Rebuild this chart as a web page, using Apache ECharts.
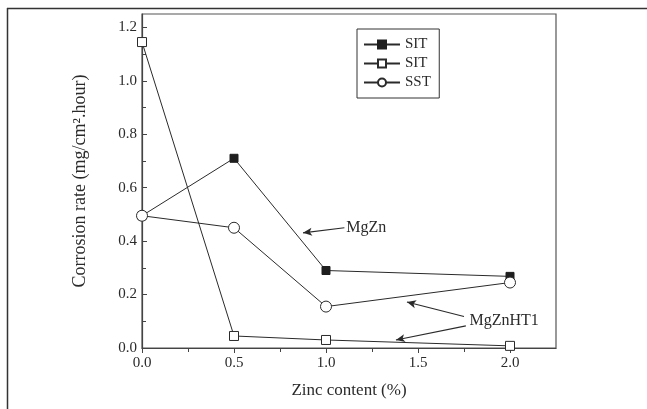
<!DOCTYPE html>
<html><head><meta charset="utf-8">
<script src="https://cdn.jsdelivr.net/npm/echarts@6/dist/echarts.min.js"></script>
<style>html,body{margin:0;padding:0;background:#fff}#c{width:647px;height:409px}</style>
</head><body><div id="c"></div>
<script>
const zinc = [0, 0.5, 1.0, 2.0];
const sitFilled = [0.495, 0.71, 0.29, 0.268];
const sitOpen = [1.145, 0.045, 0.03, 0.008];
const sst = [0.495, 0.45, 0.155, 0.245];
const xTicks = [0, 0.5, 1.0, 1.5, 2.0];
const yTicks = [0, 0.2, 0.4, 0.6, 0.8, 1.0, 1.2];
const seriesNames = ['SIT', 'SIT ', 'SST'];
// annotation anchors in data units
const mgznText = [1.11, 0.45];
const mgznArrow = [[1.10, 0.450], [0.875, 0.431]];
const ht1Text = [1.78, 0.10];
const ht1Arrows = [[[1.75, 0.118], [1.44, 0.172]], [[1.76, 0.083], [1.38, 0.030]]];

const F = 'Liberation Serif';
const ink = '#2a2a2a';
const pair = (xs, ys) => xs.map((x, i) => [x, ys[i]]);

const chart = echarts.init(document.getElementById('c'), null, {renderer: 'canvas'});
const arrowLine = (a) => ({
  silent: true, symbol: ['none', 'arrow'], symbolSize: [6, 9],
  lineStyle: {color: ink, width: 1.2, type: 'solid'}, label: {show: false},
  data: a.map(s => [{coord: s[0]}, {coord: s[1]}])
});
chart.setOption({
  animation: false,
  grid: {left: 142, top: 14, right: 91, bottom: 61, show: true, borderColor: '#555', borderWidth: 1.2, backgroundColor: 'transparent'},
  legend: {
    orient: 'vertical', left: 357, top: 29, data: seriesNames,
    borderColor: '#333', borderWidth: 1, padding: [8, 8, 8, 6], itemGap: 4,
    itemWidth: 36, itemHeight: 10,
    textStyle: {fontFamily: F, fontSize: 15, color: ink}
  },
  xAxis: {
    type: 'value', min: 0, max: 2.25, interval: 0.5,
    name: 'Zinc content (%)', nameLocation: 'middle', nameGap: 34,
    nameTextStyle: {fontFamily: F, fontSize: 17, color: ink},
    axisLine: {lineStyle: {color: '#444', width: 1.2}},
    axisTick: {show: true, inside: false, length: 5, customValues: xTicks, lineStyle: {color: '#444'}},
    minorTick: {show: true, splitNumber: 2, length: 4, lineStyle: {color: '#444'}},
    axisLabel: {customValues: xTicks, formatter: v => v.toFixed(1), fontFamily: F, fontSize: 15, color: ink, margin: 8},
    splitLine: {show: false}
  },
  yAxis: {
    type: 'value', min: 0, max: 1.25, interval: 0.2,
    name: 'Corrosion rate (mg/cm\u00b2.hour)', nameLocation: 'middle', nameGap: 53, nameRotate: 90,
    nameTextStyle: {fontFamily: F, fontSize: 18, color: ink},
    axisLine: {lineStyle: {color: '#444', width: 1.2}},
    axisTick: {show: true, inside: true, length: 5, customValues: yTicks, lineStyle: {color: '#444'}},
    minorTick: {show: true, splitNumber: 2, length: 4, lineStyle: {color: '#444'}},
    axisLabel: {customValues: yTicks, formatter: v => v.toFixed(1), fontFamily: F, fontSize: 15, color: ink, margin: 5},
    splitLine: {show: false}
  },
  series: [
    {name: seriesNames[0], type: 'line', data: pair(zinc, sitFilled), symbol: 'rect', symbolSize: 8,
     lineStyle: {color: ink, width: 1}, itemStyle: {color: '#1e1e1e', borderColor: '#1e1e1e', borderWidth: 1},
     markLine: arrowLine([mgznArrow])},
    {name: seriesNames[1], type: 'line', data: pair(zinc, sitOpen), symbol: 'rect', symbolSize: 9,
     lineStyle: {color: ink, width: 1}, itemStyle: {color: '#fff', borderColor: ink, borderWidth: 1},
     markLine: arrowLine(ht1Arrows)},
    {name: seriesNames[2], type: 'line', data: pair(zinc, sst), symbol: 'circle', symbolSize: 11,
     lineStyle: {color: ink, width: 1}, itemStyle: {color: '#fff', borderColor: ink, borderWidth: 1}, z: 3}
  ]
});
const p1 = chart.convertToPixel({gridIndex: 0}, mgznText);
const p2 = chart.convertToPixel({gridIndex: 0}, ht1Text);
chart.setOption({
  graphic: [
    {type: 'line', shape: {x1: 7, y1: 8.5, x2: 647, y2: 8.5}, style: {stroke: '#333', lineWidth: 1.5}},
    {type: 'line', shape: {x1: 7.5, y1: 8, x2: 7.5, y2: 409}, style: {stroke: '#333', lineWidth: 1.5}},
    {type: 'text', x: p1[0], y: p1[1], style: {text: 'MgZn', font: '16px "Liberation Serif"', fill: ink, textVerticalAlign: 'middle'}},
    {type: 'text', x: p2[0], y: p2[1], style: {text: 'MgZnHT1', font: '16px "Liberation Serif"', fill: ink, textVerticalAlign: 'middle'}}
  ]
});
</script></body></html>
